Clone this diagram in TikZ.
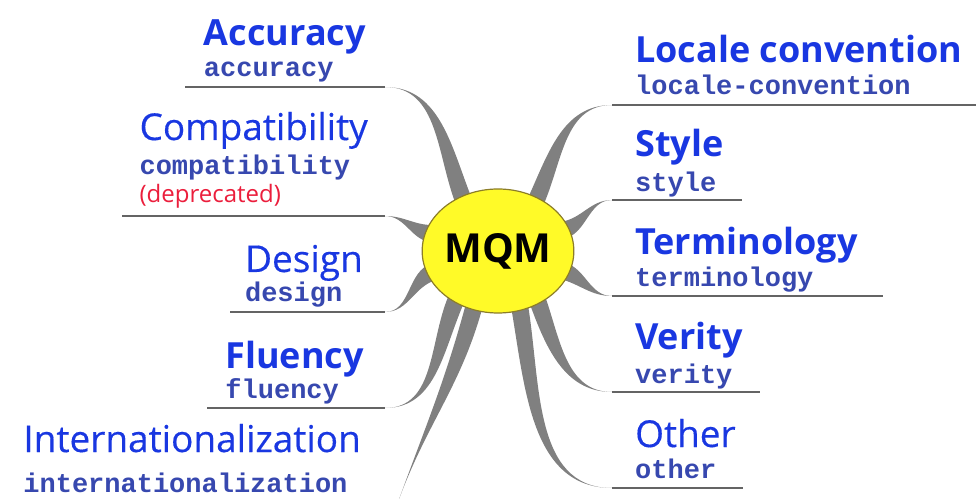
\documentclass[tikz,border=0pt]{standalone}
\usepackage{fontspec}
\setmainfont{Open Sans}
\setmonofont{Liberation Mono}
\usetikzlibrary{calc,shapes,backgrounds}

\definecolor{mmblue}{RGB}{25,55,225}
\definecolor{mmcode}{RGB}{55,72,175}
\definecolor{mmred}{RGB}{235,30,60}
\definecolor{mmgray}{RGB}{128,128,128}
\definecolor{mmrule}{RGB}{100,100,100}
\definecolor{mmyellow}{RGB}{255,250,40}
\definecolor{mmolive}{RGB}{140,125,40}

% tapered branch: ellipse anchor, end coordinate, out angle, in angle
\newcommand\limb[4]{%
  \fill[limb] ($(mqm.#1)!8pt!(mqm.center)+({#3+90}:8.5)$) to[out=#3,in=#4] (#2)
    to[out=#4,in=#3] ($(mqm.#1)!8pt!(mqm.center)+({#3-90}:8.5)$) -- cycle;}

\begin{document}
\begin{tikzpicture}[x=1pt,y=1pt,
    head/.style={font=\bfseries\fontsize{36}{40}\selectfont, text=mmblue, inner sep=0pt},
    headreg/.style={font=\fontsize{37}{40}\selectfont\addfontfeature{FakeBold=0.3}, text=mmblue, inner sep=0pt},
    code/.style={font=\ttfamily\bfseries\fontsize{27}{30}\selectfont, text=mmcode, inner sep=0pt},
    note/.style={font=\fontsize{24}{28}\selectfont, text=mmred, inner sep=0pt},
    rule/.style={draw=mmrule, line width=1.4pt},
    limb/.style={fill=mmgray}]
  \useasboundingbox (0,0) rectangle (976,498);

  \node[ellipse, minimum width=144pt, minimum height=124pt, fill=mmyellow, draw=mmolive,
        line width=1.2pt, inner sep=0pt, font=\bfseries\fontsize{40}{40}\selectfont] (mqm) at (498,247) {MQM};

  % left side
  \node[head, anchor=base east] (acchead) at (366,452) {Accuracy};
  \node[code, anchor=base west] (acccode) at ([yshift=-31pt]acchead.base west) {accuracy};
  \node[headreg, anchor=base east] (comhead) at (368,358) {Compatibility};
  \node[code, anchor=base west] (comcode) at ([yshift=-35pt]comhead.base west) {compatibility};
  \node[note, anchor=base west] (comnote) at ([yshift=-28pt]comcode.base west) {(deprecated)};
  \node[headreg, anchor=base east] (deshead) at (363,226) {Design};
  \node[code, anchor=base west] (descode) at ([yshift=-30pt]deshead.base west) {design};
  \node[head, anchor=base east] (fluhead) at (364,130) {Fluency};
  \node[code, anchor=base west] (flucode) at ([yshift=-30pt]fluhead.base west) {fluency};
  \node[headreg, anchor=base east] (inthead) at (361,46) {Internationalization};
  \node[code, anchor=base west] (intcode) at ([yshift=-40pt]inthead.base west) {internationalization};

  % right side
  \node[head, anchor=base west] (lochead) at (635,435) {Locale convention};
  \node[code, anchor=base west] (loccode) at ([yshift=-32pt]lochead.base west) {locale-convention};
  \node[head, anchor=base west] (styhead) at (635,341) {Style};
  \node[code, anchor=base west] (stycode) at ([yshift=-35pt]styhead.base west) {style};
  \node[head, anchor=base west] (terhead) at (635,243) {Terminology};
  \node[code, anchor=base west] (tercode) at ([yshift=-32pt]terhead.base west) {terminology};
  \node[head, anchor=base west] (verhead) at (635,148) {Verity};
  \node[code, anchor=base west] (vercode) at ([yshift=-33pt]verhead.base west) {verity};
  \node[headreg, anchor=base west] (othhead) at (635,51) {Other};
  \node[code, anchor=base west] (othcode) at ([yshift=-31pt]othhead.base west) {other};

  % underline ends
  \coordinate (accl) at (185,411);  \coordinate (accend) at (385,411);
  \coordinate (coml) at (122,282);  \coordinate (comend) at (385,282);
  \coordinate (desl) at (230,186);  \coordinate (desend) at (385,186);
  \coordinate (flul) at (207,90);   \coordinate (fluend) at (385,90);
  \coordinate (intl) at (25,-4);    \coordinate (intend) at (398,-4);
  \coordinate (locend) at (612,393); \coordinate (locr) at (976,393);
  \coordinate (styend) at (612,298); \coordinate (styr) at (742,298);
  \coordinate (terend) at (612,202); \coordinate (terr) at (883,202);
  \coordinate (verend) at (612,106); \coordinate (verr) at (760,106);
  \coordinate (othend) at (612,10);  \coordinate (othr) at (743,10);

  \draw[rule] (accl) -- (accend);
  \draw[rule] (coml) -- (comend);
  \draw[rule] (desl) -- (desend);
  \draw[rule] (flul) -- (fluend);
  \draw[rule] (intl) -- (intend);
  \draw[rule] (locend) -- (locr);
  \draw[rule] (styend) -- (styr);
  \draw[rule] (terend) -- (terr);
  \draw[rule] (verend) -- (verr);
  \draw[rule] (othend) -- (othr);

  \begin{scope}[on background layer]
    \limb{125}{accend}{112}{0}
    \limb{165}{comend}{180}{0}
    \limb{198}{desend}{195}{0}
    \limb{228}{fluend}{245}{0}
    \limb{246}{intend}{255}{70}
    \limb{52}{locend}{65}{180}
    \limb{18}{styend}{8}{180}
    \limb{343}{terend}{345}{180}
    \limb{310}{verend}{290}{180}
    \limb{292}{othend}{280}{180}
  \end{scope}
\end{tikzpicture}
\end{document}
